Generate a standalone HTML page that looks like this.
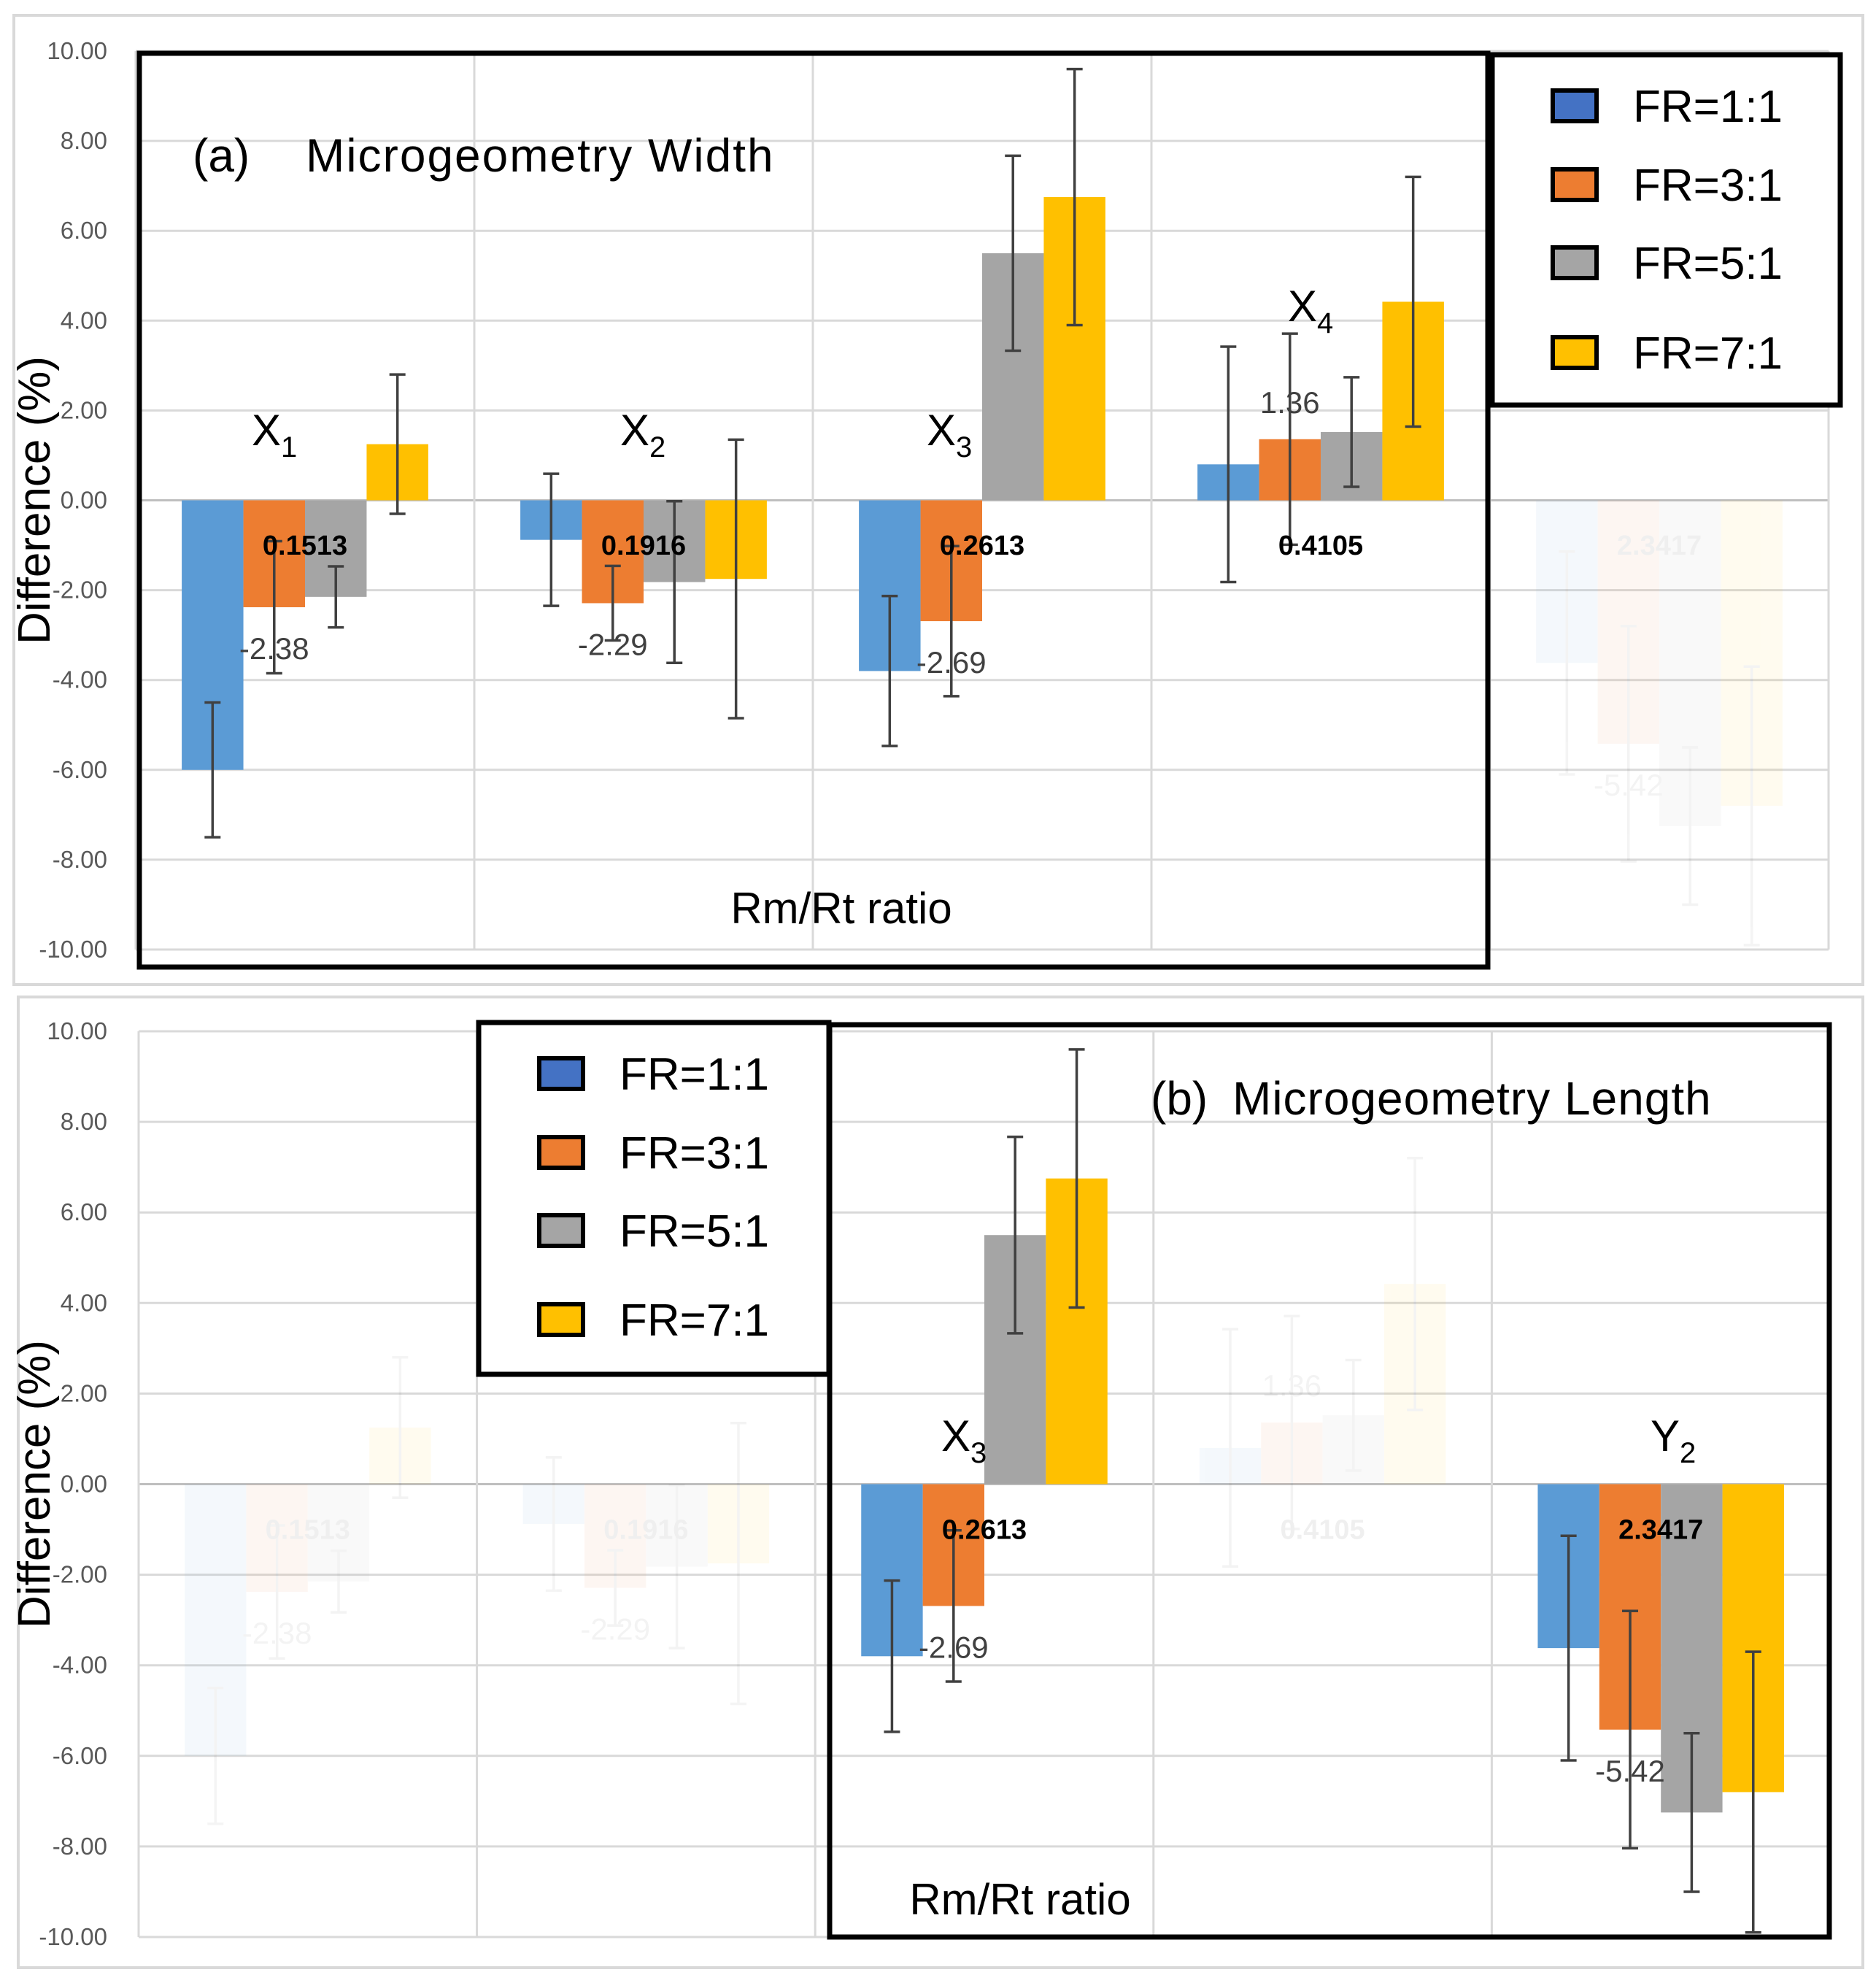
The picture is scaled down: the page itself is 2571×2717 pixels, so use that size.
<!DOCTYPE html>
<html><head><meta charset="utf-8"><style>
html,body{margin:0;padding:0;background:#fff;}
svg{display:block;font-family:"Liberation Sans",sans-serif;}
</style></head><body>
<svg id="chart" width="2571" height="2717" viewBox="0 0 2571 2717" xmlns="http://www.w3.org/2000/svg">
<rect x="0" y="0" width="2571" height="2717" fill="#fff"/>
<g id="layer"></g>
</svg>
<script>
const categories = ["X1","X2","X3","X4","Y2"];
const seriesNames = ["FR=1:1","FR=3:1","FR=5:1","FR=7:1"];
const fr11 = [-6.0, -0.88, -3.8, 0.8, -3.62];
const fr31 = [-2.38, -2.29, -2.69, 1.36, -5.42];
const fr51 = [-2.15, -1.82, 5.5, 1.52, -7.25];
const fr71 = [1.25, -1.75, 6.75, 4.42, -6.8];
const err11 = [1.5, 1.47, 1.67, 2.62, 2.48];
const err31 = [1.47, 0.83, 1.67, 2.35, 2.62];
const err51 = [0.68, 1.8, 2.17, 1.22, 1.75];
const err71 = [1.55, 3.1, 2.85, 2.78, 3.1];
const boldLabels = ["0.1513","0.1916","0.2613","0.4105","2.3417"];
const grayLabels = ["-2.38","-2.29","-2.69","1.36","-5.42"];
const yTicks = [10,8,6,4,2,0,-2,-4,-6,-8,-10];
const yTickLabels = ["10.00","8.00","6.00","4.00","2.00","0.00","-2.00","-4.00","-6.00","-8.00","-10.00"];

const NS="http://www.w3.org/2000/svg";
const layer=document.getElementById('layer');
const colors=["#5B9BD5","#ED7D31","#A5A5A5","#FFC000"];
const legColors=["#4472C4","#ED7D31","#A5A5A5","#FFC000"];
const vals=[fr11,fr31,fr51,fr71], errs=[err11,err31,err51,err71];
function mk(tag,attrs,parent){const e=document.createElementNS(NS,tag);for(const k in attrs)e.setAttribute(k,attrs[k]);(parent||layer).appendChild(e);return e;}

function panel(p){
  const g=mk('g',{});
  
  
  const y=v=>p.zero - v*p.unit;
  const catW=(p.right-p.left)/categories.length;
  const x=i=>p.left+catW*i;
  const ob=mk('rect',{x:p.bx,y:p.by,width:p.bw,height:p.bh,fill:'#fff',stroke:'#d9d9d9','stroke-width':4},g);
  
  
  yTicks.forEach((t,i)=>{
    const l=mk('line',{x1:p.left,x2:p.right,y1:y(t),y2:y(t),stroke:t===0?'#bfbfbf':'#d9d9d9','stroke-width':3},g);
    
    
    const tx=mk('text',{x:147,y:y(t)+11,'font-size':33,fill:'#595959','text-anchor':'end'},g);
    tx.textContent=yTickLabels[i];
    
    
  });
  for(let i=0;i<=categories.length;i++){
    const l=mk('line',{x1:x(i),x2:x(i),y1:y(10),y2:y(-10),stroke:'#d9d9d9','stroke-width':3},g);
    
    
  }
  const bw=catW*0.182;
  categories.forEach((c,ci)=>{
    const cg=mk('g',{opacity:p.faded.includes(ci)?0.06:1},g);
    
    
    const cx=x(ci)+catW/2;
    for(let s=0;s<4;s++){
      const v=vals[s][ci], e=errs[s][ci];
      const bx=cx-2*bw+s*bw;
      const r=mk('rect',{x:bx,y:Math.min(y(v),y(0)),width:bw,height:Math.abs(y(v)-y(0)),fill:colors[s]},cg);
      
      
      const mx=bx+bw/2;
      const el=mk('path',{d:`M${mx},${y(v+e)}V${y(v-e)}M${mx-11},${y(v+e)}H${mx+11}M${mx-11},${y(v-e)}H${mx+11}`,stroke:'#404040','stroke-width':3.5,fill:'none'},cg);
      
      
    }
    const bl=mk('text',{x:cx,y:y(-1)+13,'font-size':38,'font-weight':'bold',fill:'#000','text-anchor':'middle'},cg);
    bl.textContent=boldLabels[ci];
    
    
    const ov=fr31[ci];
    const gl=mk('text',{x:cx-bw/2,y:(ov<0?y(ov)+57:y(ov)-50)+14,'font-size':42,fill:'#404040','text-anchor':'middle'},cg);
    gl.textContent=grayLabels[ci];
    
    
  });
  const fr=mk('rect',{x:p.fx,y:p.fy,width:p.fw,height:p.fh,fill:'none',stroke:'#000','stroke-width':7},g);
  
  
  p.catLabels.forEach(cl=>{
    const t=mk('text',{x:cl[1],y:cl[2],'font-size':60,fill:'#000'},g);
    t.innerHTML=cl[0][0]+'<tspan font-size="40" dy="16">'+cl[0][1]+'</tspan>';
    
    
  });
  const tp=mk('text',{x:p.tx,y:p.ty,'font-size':64,fill:'#000'},g);
  tp.textContent=p.tpre;
  
  
  const tt=mk('text',{x:p.tx2,y:p.ty,'font-size':64,fill:'#000','letter-spacing':p.ls},g);
  tt.textContent=p.title;
  
  
  const xt=mk('text',{x:p.xtx,y:p.xty,'font-size':60,fill:'#000','text-anchor':'middle'},g);
  xt.textContent='Rm/Rt ratio';
  
  
  const yt=mk('text',{x:0,y:0,'font-size':62,fill:'#000','text-anchor':'middle',transform:`translate(68,${p.zero}) rotate(-90)`},g);
  yt.textContent='Difference (%)';
  
  
  const lg=mk('g',{},g);
  
  
  mk('rect',{x:p.lx,y:p.ly,width:p.lw,height:p.lh,fill:'#fff',stroke:'#000','stroke-width':7},lg);
  seriesNames.forEach((n,i)=>{
    const cy=p.ly+p.lrows[i];
    const sq=mk('rect',{x:p.lx+83,y:cy-21,width:60,height:42,fill:legColors[i],stroke:'#000','stroke-width':6},lg);
    
    
    const t=mk('text',{x:p.lx+193,y:cy+22,'font-size':62,fill:'#000'},lg);
    t.textContent=n;
    
    
  });
}

panel({name:'panel-a',zero:685.5,unit:61.55,left:186,right:2506,bx:19,by:21,bw:2534,bh:1328,
  fx:191,fy:73,fw:1848,fh:1252,faded:[4],
  catLabels:[["X1",345,610],["X2",850,610],["X3",1270,610],["X4",1765,440]],
  tpre:'(a)',tx:264,tx2:419,ls:2,title:'Microgeometry Width',ty:235,xtx:1153,xty:1265,
  lx:2045,ly:75,lw:477,lh:480,lrows:[70,178,285,408]});
panel({name:'panel-b',zero:2033.5,unit:62.05,left:190,right:2508,bx:25,by:1366,bw:2528,bh:1330,
  fx:1137,fy:1404,fw:1370,fh:1250,faded:[0,1,3],
  catLabels:[["X3",1290,1988],["Y2",2262,1988]],
  tpre:'(b)',tx:1577,tx2:1689,ls:1,title:'Microgeometry Length',ty:1527,xtx:1398,xty:2623,
  lx:656,ly:1401,lw:480,lh:482,lrows:[70,178,285,407]});
</script>
</body></html>
